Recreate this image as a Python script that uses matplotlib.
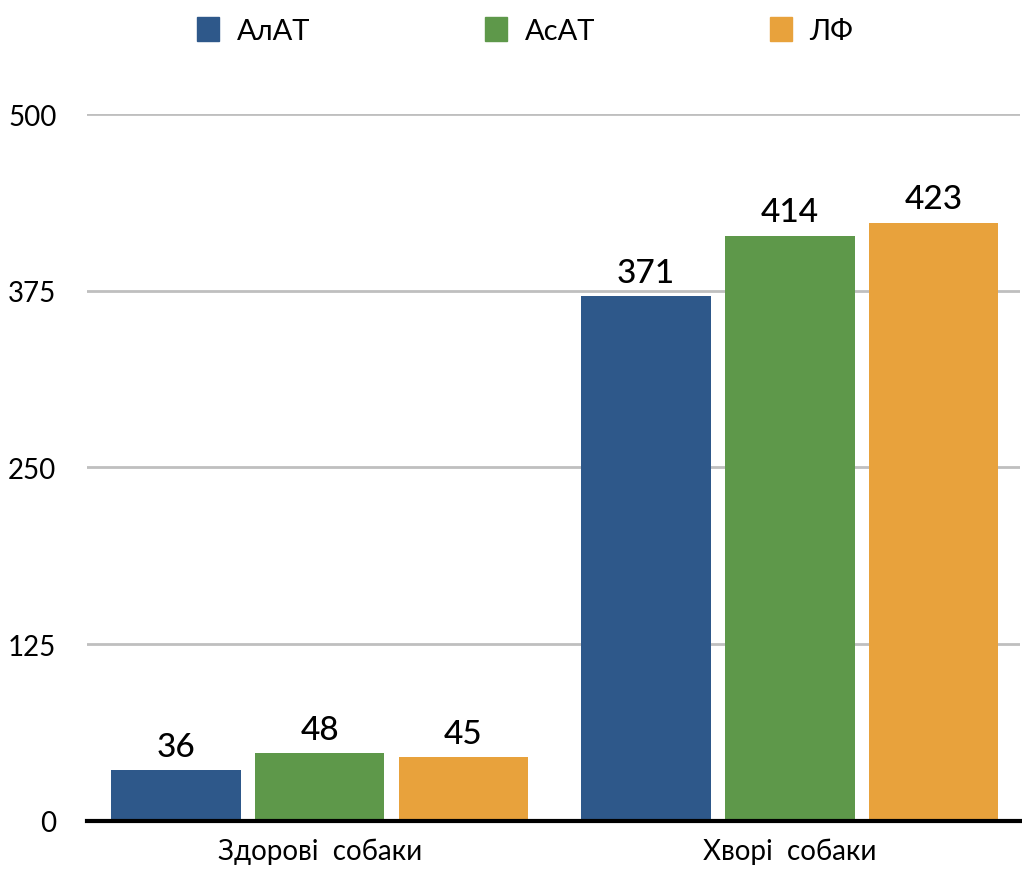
import matplotlib.pyplot as plt
import numpy as np
from matplotlib.patches import Patch

# Дані
groups = ['Здорові  собаки', 'Хворі  собаки']
series = ['АлАТ', 'АсАТ', 'ЛФ']
alat = [36, 371]
asat = [48, 414]
lf = [45, 423]
colors = ['#2E588A', '#5E984A', '#E8A23C']
yticks = [0, 125, 250, 375, 500]

plt.rcParams['font.family'] = ['Lato', 'DejaVu Sans']

fig = plt.figure(figsize=(10.22, 8.7), dpi=100)
ax = fig.add_axes([0.0851, 0.0552, 0.9129, 0.8126])

x = np.arange(len(groups))
width = 0.276
step = 0.306
for k, (vals, c) in enumerate(zip([alat, asat, lf], colors)):
    bars = ax.bar(x + (k - 1) * step, vals, width, color=c, zorder=3)
    for b, v in zip(bars, vals):
        ax.text(b.get_x() + b.get_width() / 2, v + 6, str(v),
                ha='center', va='bottom', fontsize=24, fontweight='medium')

ax.set_xlim(-0.495, 1.49)
ax.set_ylim(0, 500)
ax.set_yticks(yticks)
ax.set_yticklabels([str(t) for t in yticks], fontsize=20)
ax.set_xticks(x)
ax.set_xticklabels(groups, fontsize=20)
ax.tick_params(axis='both', length=0)
ax.tick_params(axis='y', pad=22)
ax.tick_params(axis='x', pad=12)
ax.grid(axis='y', color='#BFBFBF', linewidth=2, zorder=0)
for s in ['top', 'right', 'left']:
    ax.spines[s].set_visible(False)
ax.spines['bottom'].set_linewidth(3)
ax.spines['bottom'].set_zorder(4)

handles = [Patch(color=c, label=s) for c, s in zip(colors, series)]
fig.legend(handles=handles, loc='upper center', bbox_to_anchor=(0.514, 1.01),
           ncol=3, frameon=False, fontsize=21, handlelength=0.75,
           handleheight=0.9, handletextpad=0.6, columnspacing=6.0)

fig.savefig('out.png', dpi=100)
